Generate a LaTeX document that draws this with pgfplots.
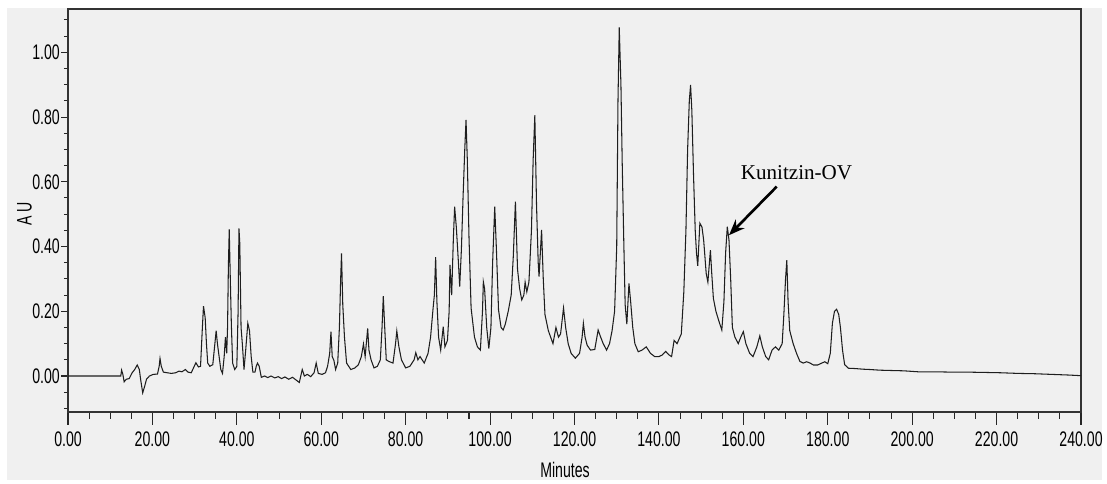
\documentclass[border=0pt]{standalone}
\usepackage{fontspec}
\setmainfont{Liberation Sans}[FakeStretch=0.67]
\newfontfamily\annfont{Liberation Serif}
\usepackage{pgfplots}
\pgfplotsset{compat=1.18}
\usetikzlibrary{arrows.meta}
\definecolor{panel}{HTML}{F0F0F0}
\definecolor{trace}{HTML}{1E1E1E}
\pgfplotstableread{
t y
0 0
12.5 0
12.7 0.018
13.0 0.005
13.3 -0.018
13.8 -0.01
14.5 -0.008
15.2 0.01
15.8 0.02
16.4 0.034
16.9 0.02
17.2 -0.01
17.7 -0.052
18.2 -0.03
18.6 -0.01
19.3 0.0
20.2 0.005
21.2 0.006
21.6 0.03
21.8 0.054
22.1 0.03
22.6 0.012
23.5 0.01
24.5 0.008
25.5 0.01
26.3 0.015
27.0 0.013
27.8 0.02
28.4 0.012
29.2 0.01
30.3 0.041
30.9 0.028
31.4 0.03
31.8 0.14
32.1 0.216
32.5 0.18
32.8 0.10
33.1 0.04
33.6 0.03
34.3 0.035
34.8 0.10
35.1 0.14
35.4 0.10
35.8 0.06
36.2 0.02
36.6 0.008
37.0 0.06
37.3 0.12
37.6 0.07
37.8 0.15
38.0 0.34
38.2 0.453
38.4 0.33
38.7 0.16
39.0 0.04
39.5 0.02
40.0 0.03
40.3 0.2
40.5 0.456
40.7 0.41
41.0 0.15
41.3 0.10
41.7 0.02
42.1 0.08
42.6 0.163
43.0 0.14
43.4 0.06
43.8 0.012
44.3 0.012
44.6 0.03
44.9 0.04
45.3 0.03
45.8 -0.004
46.6 0.0
47.3 -0.005
48.1 0.0
49.0 -0.006
49.8 -0.002
50.6 -0.008
51.4 -0.003
52.3 -0.01
53.2 -0.004
54.0 -0.012
54.8 -0.02
55.5 0.02
56.0 0.0
56.7 0.005
57.5 -0.002
58.3 0.01
58.8 0.04
59.3 0.008
60.2 0.005
61.0 0.01
61.5 0.03
62.0 0.07
62.3 0.137
62.6 0.06
63.0 0.048
63.4 0.02
63.9 0.04
64.3 0.15
64.6 0.30
64.8 0.379
65.1 0.22
65.5 0.12
66.0 0.04
67.0 0.02
68.0 0.025
68.8 0.035
69.5 0.06
70.0 0.099
70.4 0.06
71.0 0.147
71.3 0.08
71.8 0.05
72.5 0.025
73.3 0.03
74.0 0.05
74.4 0.15
74.7 0.247
75.0 0.16
75.4 0.05
76.0 0.045
77.0 0.04
77.6 0.10
77.9 0.139
78.4 0.09
79.0 0.05
80.0 0.025
81.0 0.03
82.0 0.05
82.4 0.072
82.9 0.05
83.4 0.06
84.4 0.04
85.3 0.07
85.9 0.12
86.5 0.21
86.8 0.25
87.1 0.367
87.4 0.23
87.8 0.12
88.3 0.08
88.9 0.152
89.3 0.09
89.9 0.11
90.3 0.20
90.5 0.343
90.9 0.25
91.3 0.425
91.6 0.523
92.0 0.46
92.5 0.35
92.8 0.276
93.2 0.39
93.6 0.554
94.0 0.70
94.3 0.791
94.6 0.67
95.0 0.43
95.5 0.21
96.3 0.12
97.0 0.09
97.7 0.08
98.2 0.20
98.4 0.291
98.7 0.27
99.2 0.15
99.7 0.085
100.2 0.15
100.6 0.35
101.1 0.523
101.5 0.39
102.0 0.204
102.6 0.15
103.1 0.142
103.6 0.16
104.3 0.20
105.0 0.25
105.5 0.37
106.0 0.539
106.5 0.33
107.0 0.27
107.5 0.235
108.0 0.25
108.3 0.29
108.7 0.26
109.2 0.29
109.8 0.45
110.2 0.667
110.6 0.806
111.0 0.53
111.4 0.35
111.6 0.307
112.2 0.451
112.6 0.30
113.0 0.19
113.8 0.14
114.9 0.10
115.6 0.15
116.2 0.12
116.7 0.13
117.4 0.21
117.9 0.15
118.5 0.10
119.2 0.07
120.2 0.055
121.2 0.07
121.8 0.12
122.1 0.163
122.5 0.12
123.0 0.095
123.8 0.08
124.8 0.082
125.6 0.142
126.2 0.12
126.8 0.10
127.6 0.08
128.3 0.10
128.9 0.14
129.5 0.20
130.0 0.40
130.3 0.85
130.6 1.077
131.0 0.90
131.3 0.66
131.7 0.40
132.0 0.22
132.4 0.16
132.9 0.286
133.3 0.23
133.8 0.15
134.3 0.10
135.1 0.075
136.0 0.08
137.0 0.09
138.0 0.07
139.0 0.06
140.0 0.06
140.8 0.065
141.6 0.076
142.4 0.065
143.0 0.06
143.6 0.11
144.3 0.10
145.3 0.13
145.9 0.26
146.4 0.45
146.8 0.70
147.2 0.85
147.5 0.899
147.8 0.82
148.2 0.62
148.6 0.45
148.9 0.38
149.2 0.34
149.7 0.472
150.2 0.46
150.6 0.42
151.2 0.317
151.6 0.29
152.2 0.389
152.5 0.32
152.9 0.24
153.5 0.20
154.2 0.17
154.9 0.142
155.4 0.23
155.8 0.38
156.2 0.461
156.6 0.42
157.0 0.30
157.4 0.15
158.0 0.12
158.8 0.10
159.4 0.12
160.0 0.137
160.6 0.10
161.5 0.07
162.3 0.06
163.2 0.09
163.9 0.124
164.5 0.09
165.3 0.06
166.0 0.05
166.8 0.08
167.6 0.09
168.4 0.08
169.2 0.10
169.6 0.19
170.0 0.30
170.3 0.358
170.6 0.23
171.0 0.14
171.8 0.10
172.6 0.07
173.4 0.045
174.2 0.04
175.0 0.044
175.8 0.04
176.6 0.034
177.6 0.034
178.6 0.04
179.3 0.044
180.0 0.038
180.6 0.07
181.1 0.163
181.6 0.20
182.1 0.206
182.6 0.19
183.0 0.15
183.5 0.08
184.0 0.035
184.9 0.024
186.5 0.023
188.4 0.021
190.0 0.020
192.3 0.018
195.0 0.017
198.0 0.016
201.4 0.013
205.0 0.013
209.3 0.012
213.0 0.012
217.2 0.011
221.0 0.010
225.1 0.008
229.0 0.007
233.0 0.005
237.0 0.003
240.0 0.001
}\chrom
\begin{document}
\begin{tikzpicture}
\fill[white] (0,0) rectangle (22.14,9.68);
\fill[panel] (0.14,0.08) rectangle (22.04,9.52);
% y ticks axis
\begin{axis}[
  at={(1.36cm,1.44cm)}, anchor=south west,
  scale only axis, width=20.26cm, height=8.06cm,
  xmin=0, xmax=240, ymin=-0.1112, ymax=1.1338,
  axis line style={draw=none},
  xtick=\empty,
  ytick={0,0.2,0.4,0.6,0.8,1.0},
  minor ytick={-0.1,-0.05,0.05,0.1,0.15,0.25,0.3,0.35,0.45,0.5,0.55,0.65,0.7,0.75,0.85,0.9,0.95,1.05,1.1},
  tick align=outside, ytick pos=left,
  major tick length=3.97pt, minor tick length=2.3pt,
  every tick/.style={black!85, line width=0.6pt},
  yticklabel style={font=\fontsize{12}{14}\selectfont, inner sep=0pt, anchor=east},
  yticklabel shift=0.5pt,
  /pgf/number format/assume math mode=true,
  /pgf/number format/.cd, fixed, fixed zerofill, precision=2,
]
\end{axis}
\begin{axis}[
  at={(1.36cm,1.44cm)}, anchor=south west,
  scale only axis, width=20.26cm, height=8.06cm,
  xmin=0, xmax=240, ymin=-0.1112, ymax=1.1338,
  axis line style={black!80, line width=1pt},
  ytick=\empty,
  xtick={0,20,...,240},
  minor x tick num=3,
  tick align=outside, xtick pos=bottom,
  major tick length=7.37pt, minor tick length=3.97pt,
  every tick/.style={black!85, line width=0.6pt},
  xticklabel style={font=\fontsize{12}{14}\selectfont, inner sep=0pt, anchor=north},
  xticklabel shift=3.9pt,
  /pgf/number format/assume math mode=true,
  /pgf/number format/.cd, fixed, fixed zerofill, precision=2,
]
\addplot[trace, line width=0.6pt, mark=none] table[x=t, y=y] {\chrom};
\draw[black, line width=1.5pt, -{Stealth[length=9pt,width=7pt]}] (axis cs:167.9,0.585) -- (axis cs:156.6,0.435);
\node[font=\annfont\fontsize{12}{14}\selectfont] at (axis cs:172.6,0.628) {Kunitzin-OV};
\end{axis}
\node[font=\fontsize{12}{14}\selectfont] at (11.3,0.28) {Minutes};
\node[font=\fontsize{12}{14}\selectfont, rotate=90] at (0.49,5.4) {A U};
\end{tikzpicture}
\end{document}
